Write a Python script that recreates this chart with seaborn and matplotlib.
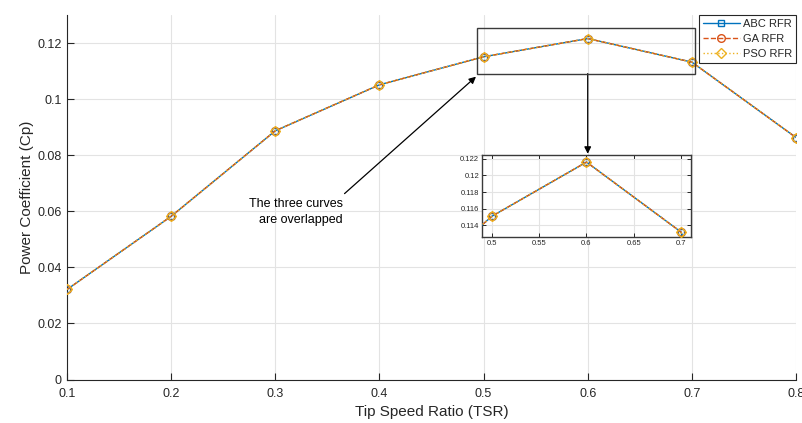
import numpy as np
import pandas as pd
import matplotlib
matplotlib.use("Agg")
import matplotlib.pyplot as plt
import seaborn as sns
from matplotlib.patches import Rectangle

sns.set_theme(style="white")
plt.rcParams['font.family'] = ['Liberation Sans', 'DejaVu Sans']

# ---- data ----
tsr = [0.1, 0.2, 0.3, 0.4, 0.5, 0.6, 0.7, 0.8]
cp_abc = [0.0321, 0.0582, 0.0887, 0.1051, 0.1151, 0.1216, 0.1132, 0.0863]
cp_ga = [0.0321, 0.0582, 0.0887, 0.1051, 0.1151, 0.1216, 0.1132, 0.0863]
cp_pso = [0.0321, 0.0582, 0.0887, 0.1051, 0.1151, 0.1216, 0.1132, 0.0863]
series_names = ["ABC RFR", "GA RFR", "PSO RFR"]
x_ticks = [0.1, 0.2, 0.3, 0.4, 0.5, 0.6, 0.7, 0.8]
x_ticklabels = ["0.1", "0.2", "0.3", "0.4", "0.5", "0.6", "0.7", "0.8"]
y_ticks = [0, 0.02, 0.04, 0.06, 0.08, 0.10, 0.12]
y_ticklabels = ["0", "0.02", "0.04", "0.06", "0.08", "0.1", "0.12"]
inset_x_ticks = [0.5, 0.55, 0.6, 0.65, 0.7]
inset_x_ticklabels = ["0.5", "0.55", "0.6", "0.65", "0.7"]
inset_y_ticks = [0.114, 0.116, 0.118, 0.12, 0.122]
inset_y_ticklabels = ["0.114", "0.116", "0.118", "0.12", "0.122"]
annotation_text = "The three curves\nare overlapped"

df = pd.DataFrame({
    "TSR": tsr * 3,
    "Cp": cp_abc + cp_ga + cp_pso,
    "Method": sum([[n] * len(tsr) for n in series_names], []),
})

styles = {
    "ABC RFR": dict(color="#0072BD", linestyle="-", marker="s", ms=4.5),
    "GA RFR": dict(color="#D95319", linestyle="--", marker="o", ms=5.5),
    "PSO RFR": dict(color="#EDB120", linestyle=":", marker="D", ms=5),
}

axcol = "#262626"
gridcol = "#e3e3e3"

fig = plt.figure(figsize=(8.03, 4.23), dpi=100)
ax = fig.add_axes([67 / 803, 1 - 379.5 / 423, (796 - 67) / 803, (379.5 - 15) / 423])


def draw(axis, legend):
    for name in series_names:
        st = styles[name]
        sub = df[df["Method"] == name]
        sns.lineplot(data=sub, x="TSR", y="Cp", ax=axis, color=st["color"],
                     linestyle=st["linestyle"], marker=st["marker"],
                     markersize=st["ms"], markerfacecolor="none",
                     markeredgecolor=st["color"], markeredgewidth=1.0,
                     linewidth=1.0, label=name if legend else None,
                     legend=False, zorder=3)


draw(ax, True)
ax.set_xlim(0.1, 0.8)
ax.set_ylim(0, 0.13)
ax.set_xticks(x_ticks)
ax.set_xticklabels(x_ticklabels)
ax.set_yticks(y_ticks)
ax.set_yticklabels(y_ticklabels)
ax.grid(True, color=gridcol, linewidth=0.8)
ax.set_axisbelow(True)
for s in ["top", "right"]:
    ax.spines[s].set_visible(False)
for s in ["left", "bottom"]:
    ax.spines[s].set_color(axcol)
    ax.spines[s].set_linewidth(0.8)
ax.tick_params(direction="in", length=5, width=0.8, colors=axcol, labelsize=9,
               left=True, bottom=True)
ax.tick_params(axis="x", pad=6)
ax.tick_params(axis="y", pad=4)
ax.set_xlabel("Tip Speed Ratio (TSR)", fontsize=11, color=axcol, labelpad=4)
ax.set_ylabel("Power Coefficient (Cp)", fontsize=11, color=axcol, labelpad=2)

leg = ax.legend(loc="upper right", fontsize=8, frameon=True, fancybox=False,
                framealpha=1, edgecolor=axcol, borderaxespad=0.0,
                handlelength=3.3, handletextpad=0.3, borderpad=0.35,
                labelspacing=0.45)
leg.get_frame().set_linewidth(0.8)

# zoom rectangle on main axes
rect = Rectangle((0.4937, 0.1091), 0.703 - 0.4937, 0.1252 - 0.1091,
                 fill=False, edgecolor="#3a3a3a", linewidth=1.0, zorder=4)
ax.add_patch(rect)

# inset
axin = fig.add_axes([482 / 803, 1 - 237 / 423, (691 - 482) / 803, (237 - 155) / 423])
draw(axin, False)
axin.set_xlim(0.4894, 0.7106)
axin.set_ylim(0.1126, 0.12245)
axin.set_xticks(inset_x_ticks)
axin.set_xticklabels(inset_x_ticklabels)
axin.set_yticks(inset_y_ticks)
axin.set_yticklabels(inset_y_ticklabels)
axin.grid(True, color=gridcol, linewidth=0.8)
axin.set_axisbelow(True)
axin.set_xlabel("")
axin.set_ylabel("")
for s in axin.spines.values():
    s.set_color("#3a3a3a")
    s.set_linewidth(1.0)
    s.set_visible(True)
axin.tick_params(direction="in", length=3, width=0.7, colors=axcol, labelsize=5.5,
                 left=True, bottom=True, top=True, right=True, pad=2)

# annotation text + arrows
ax.text(0.365, 0.0598, annotation_text, ha="right", va="center",
        multialignment="right", fontsize=9, color="black", zorder=5,
        linespacing=1.45)
ax.annotate("", xy=(0.4927, 0.1080), xytext=(0.3665, 0.0663),
            arrowprops=dict(arrowstyle="-|>", color="black", lw=0.9,
                            mutation_scale=10, shrinkA=0, shrinkB=0))
ax.annotate("", xy=(0.6, 0.0805), xytext=(0.6, 0.1091),
            arrowprops=dict(arrowstyle="-|>", color="black", lw=0.9,
                            mutation_scale=10, shrinkA=0, shrinkB=0))

fig.savefig("out.png", dpi=100)
